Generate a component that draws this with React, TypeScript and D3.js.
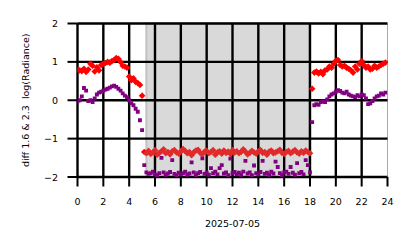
import React from "react";
import * as d3 from "d3";

const xTicks = [0, 2, 4, 6, 8, 10, 12, 14, 16, 18, 20, 22, 24];
const yTicks = [-2, -1, 0, 1, 2];
const nightSpan = [5.33, 17.93];
const xLabel = "2025-07-05";
const yLabel = "diff 1.6 & 2.3  log(Radiance)";

// one value every 10 minutes, starting at 00:00
const redValues = [
  0.80, 0.78, 0.76, 0.82, 0.74, 0.80, 0.95, 0.90, 0.75, 0.86, 0.78, 0.92,
  0.95, 0.97, 1.00, 0.98, 1.02, 1.05, 1.10, 1.08, 1.00, 0.90, 0.88, 0.85,
  0.62, 0.52, 0.57, 0.48, 0.45, 0.40, 0.12,
  -1.35, -1.38, -1.32, -1.40, -1.36, -1.30, -1.42, -1.37, -1.33, -1.28,
  -1.38, -1.35, -1.41, -1.33, -1.30, -1.36, -1.39, -1.34, -1.27, -1.32,
  -1.38, -1.35, -1.43, -1.36, -1.31, -1.29, -1.37, -1.40, -1.34, -1.32,
  -1.38, -1.35, -1.30, -1.42, -1.36, -1.33, -1.39, -1.31, -1.37, -1.34,
  -1.40, -1.30, -1.36, -1.33, -1.38, -1.35, -1.28, -1.34, -1.41, -1.37,
  -1.32, -1.36, -1.39, -1.33, -1.30, -1.37, -1.35, -1.42, -1.34, -1.31,
  -1.38, -1.36, -1.33, -1.29, -1.37, -1.40, -1.35, -1.32, -1.38, -1.34,
  -1.30, -1.36, -1.39, -1.33, -1.37, -1.31, -1.35, -1.38,
  0.30, 0.72, 0.75, 0.70, 0.74, 0.68, 0.78, 0.80, 0.88, 0.85, 0.95, 1.03,
  1.05, 0.92, 0.88, 0.90, 0.85, 0.82, 0.78, 0.72, 0.88, 0.80, 0.95, 1.02,
  0.92, 0.85, 0.88, 0.80, 0.82, 0.90, 0.85, 0.88, 0.92, 0.95, 0.98,
];

const purpleValues = [
  -0.03, 0.00, 0.10, 0.32, 0.25, -0.02, 0.00, -0.05, 0.05, 0.15, 0.20, 0.22,
  0.25, 0.28, 0.30, 0.33, 0.36, 0.38, 0.35, 0.30, 0.25, 0.18, 0.12, 0.08,
  0.00, -0.08, -0.13, -0.22, -0.30, -0.52, -0.78, -1.69,
  -1.88, -1.92, -1.90, -1.86, -1.93, -1.95, -1.90, -1.50, -1.88, -1.94,
  -1.91, -1.87, -1.56, -1.92, -1.95, -1.89, -1.93, -1.90, -1.86, -1.94,
  -1.91, -1.62, -1.88, -1.95, -1.90, -1.87, -1.51, -1.92, -1.89, -1.94,
  -1.77, -1.90, -1.86, -1.93, -1.77, -1.69, -1.91, -1.88, -1.95, -1.52,
  -1.90, -1.87, -1.93, -1.89, -1.94, -1.86, -1.58, -1.91, -1.88, -1.95,
  -1.70, -1.90, -1.93, -1.87, -1.58, -1.92, -1.89, -1.94, -1.86, -1.91,
  -1.60, -1.74, -1.90, -1.95, -1.88, -1.86, -1.92, -1.74, -1.89, -1.94,
  -1.64, -1.90, -1.87, -1.93, -1.56, -1.69, -1.88,
  -0.57, -0.13, -0.10, -0.12, -0.05, -0.03, -0.05, 0.02, 0.10, 0.15, 0.18,
  0.22, 0.26, 0.24, 0.20, 0.18, 0.22, 0.15, 0.12, 0.10, 0.08, 0.13, 0.10,
  0.15, 0.13, 0.05, -0.10, -0.08, -0.02, 0.05, 0.10, 0.12, 0.18, 0.15, 0.20,
];

const FONT = "DejaVu Sans, sans-serif";

export default function App() {
  const W = 414;
  const H = 248;
  const x = d3.scaleLinear().domain([0, 24]).range([77.5, 387.5]);
  const y = d3.scaleLinear().domain([-2, 2]).range([177, 23.5]);
  const [x0, x1] = x.range();
  const [yb, yt] = y.range();

  const diamond = d3.symbol().type(d3.symbolSquare).size(22)();
  const square = d3.symbol().type(d3.symbolSquare).size(15)();
  const isNight = (h: number) => h >= nightSpan[0] && h <= nightSpan[1] + 0.1;

  return (
    <svg
      width={W}
      height={H}
      style={{ position: "absolute", left: 0, top: 0, background: "#fff" }}
      fontFamily={FONT}
    >
      <defs>
        <clipPath id="plot">
          <rect x={x0} y={yt} width={x1 - x0} height={yb - yt} />
        </clipPath>
      </defs>
      <rect width={W} height={H} fill="#fff" />
      {/* night shading */}
      <rect
        x={x(nightSpan[0])}
        y={yt}
        width={x(nightSpan[1]) - x(nightSpan[0])}
        height={yb - yt}
        fill="#d9d9d9"
        stroke="#c2c2c2"
        strokeWidth={2}
      />
      {/* grid */}
      {xTicks.map((t) => (
        <line
          key={"gx" + t}
          x1={x(t)}
          x2={x(t)}
          y1={yt}
          y2={yb}
          stroke={t === 24 ? "#aaa" : "#000"}
          strokeWidth={t === 24 ? 1 : 2.4}
        />
      ))}
      {yTicks.map((t) => (
        <line
          key={"gy" + t}
          x1={x0}
          x2={x1}
          y1={y(t)}
          y2={y(t)}
          stroke="#000"
          strokeWidth={2.4}
        />
      ))}
      {/* ticks */}
      {xTicks.map((t) => (
        <line
          key={"tx" + t}
          x1={x(t)}
          x2={x(t)}
          y1={yb}
          y2={yb + 9.5}
          stroke="#000"
          strokeWidth={2}
        />
      ))}
      {yTicks.map((t) => (
        <line
          key={"ty" + t}
          x1={x0 - 10}
          x2={x0}
          y1={y(t)}
          y2={y(t)}
          stroke="#000"
          strokeWidth={2}
        />
      ))}
      {/* points */}
      <g clipPath="url(#plot)">
        {purpleValues.map((v, i) => (
          <path
            key={"p" + i}
            d={square}
            transform={`translate(${x(i / 6)},${y(v)})`}
            fill="#800080"
          />
        ))}
        {redValues.map((v, i) => (
          <path
            key={"r" + i}
            d={diamond}
            transform={`translate(${x(i / 6)},${y(v)}) rotate(45)`}
            fill={isNight(i / 6) ? "#e22a2a" : "#ff0000"}
          />
        ))}
      </g>
      {/* tick labels */}
      {xTicks.map((t) => (
        <text
          key={"lx" + t}
          x={x(t)}
          y={205}
          textAnchor="middle"
          fontSize={9.5}
          fill="#000"
        >
          {t}
        </text>
      ))}
      {yTicks.map((t) => (
        <text
          key={"ly" + t}
          x={58}
          y={y(t) + 3.5}
          textAnchor="end"
          fontSize={9.5}
          fill="#000"
        >
          {t < 0 ? "\u2212" + Math.abs(t) : String(t)}
        </text>
      ))}
      <text
        x={(x0 + x1) / 2}
        y={226.5}
        textAnchor="middle"
        fontSize={9.5}
        fill="#000"
      >
        {xLabel}
      </text>
      <text
        transform={`translate(28.5,${(yt + yb) / 2}) rotate(-90)`}
        textAnchor="middle"
        fontSize={9.5}
        fill="#000"
        style={{ whiteSpace: "pre" }}
      >
        {yLabel}
      </text>
    </svg>
  );
}
